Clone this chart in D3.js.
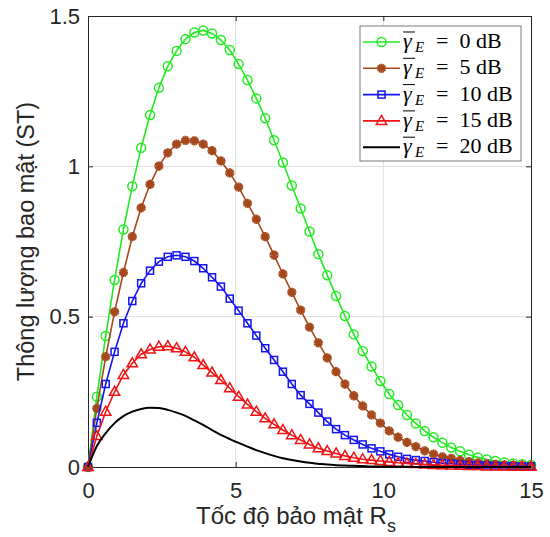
<!DOCTYPE html>
<html>
<head>
<meta charset="utf-8">
<script src="https://cdn.jsdelivr.net/npm/d3@7"></script>
<style>
  body { margin: 0; background: #fff; }
  svg { display: block; }
</style>
</head>
<body>
<div id="chart"></div>
<script>
// secrecy rate Rs (x axis), one point every 0.3
const rates = [0, 0.3, 0.6, 0.9, 1.2, 1.5, 1.8, 2.1, 2.4, 2.7, 3, 3.3, 3.6, 3.9, 4.2, 4.5, 4.8,
  5.1, 5.4, 5.7, 6, 6.3, 6.6, 6.9, 7.2, 7.5, 7.8, 8.1, 8.4, 8.7, 9, 9.3, 9.6, 9.9, 10.2, 10.5,
  10.8, 11.1, 11.4, 11.7, 12, 12.3, 12.6, 12.9, 13.2, 13.5, 13.8, 14.1, 14.4, 14.7, 15]

const st0 = [0, 0.234, 0.436, 0.622, 0.79, 0.934, 1.062, 1.171, 1.261, 1.333, 1.384, 1.423, 1.445,
  1.452, 1.442, 1.42, 1.387, 1.34, 1.287, 1.226, 1.16, 1.087, 1.013, 0.936, 0.86, 0.783, 0.708,
  0.638, 0.569, 0.502, 0.441, 0.386, 0.334, 0.286, 0.243, 0.206, 0.173, 0.145, 0.12, 0.099,
  0.081, 0.065, 0.052, 0.041, 0.032, 0.025, 0.02, 0.015, 0.012, 0.009, 0.007]
const st5 = [0, 0.195, 0.367, 0.516, 0.647, 0.766, 0.862, 0.94, 1.001, 1.045, 1.074, 1.086, 1.085,
  1.074, 1.052, 1.018, 0.978, 0.931, 0.877, 0.824, 0.766, 0.705, 0.642, 0.581, 0.522, 0.465,
  0.413, 0.363, 0.317, 0.276, 0.237, 0.203, 0.173, 0.146, 0.12, 0.099, 0.082, 0.068, 0.054,
  0.043, 0.034, 0.029, 0.022, 0.018, 0.014, 0.011, 0.009, 0.007, 0.006, 0.005, 0.004]
const st10 = [0, 0.147, 0.276, 0.383, 0.478, 0.552, 0.611, 0.653, 0.683, 0.699, 0.704, 0.699, 0.685,
  0.661, 0.631, 0.6, 0.56, 0.52, 0.478, 0.437, 0.395, 0.356, 0.317, 0.276, 0.239, 0.21, 0.181,
  0.151, 0.126, 0.106, 0.09, 0.075, 0.062, 0.052, 0.042, 0.034, 0.027, 0.023, 0.02, 0.016,
  0.013, 0.011, 0.009, 0.007, 0.006, 0.005, 0.004, 0.003, 0.003, 0.002, 0.002]
const st15 = [0, 0.103, 0.184, 0.25, 0.306, 0.345, 0.375, 0.391, 0.4, 0.402, 0.395, 0.383, 0.365,
  0.339, 0.314, 0.289, 0.262, 0.234, 0.208, 0.184, 0.162, 0.142, 0.123, 0.106, 0.09, 0.075,
  0.062, 0.053, 0.045, 0.037, 0.031, 0.026, 0.023, 0.02, 0.017, 0.014, 0.012, 0.01, 0.008,
  0.007, 0.006, 0.005, 0.004, 0.003, 0.003, 0.002, 0.002, 0.002, 0.001, 0.001, 0.001]
const st20 = [0, 0.07, 0.113, 0.146, 0.169, 0.184, 0.193, 0.197, 0.196, 0.19, 0.181, 0.17, 0.155,
  0.14, 0.123, 0.107, 0.093, 0.08, 0.068, 0.056, 0.046, 0.037, 0.029, 0.023, 0.018, 0.014,
  0.011, 0.008, 0.006, 0.005, 0.004, 0.003, 0.002, 0.002, 0.001, 0.001, 0.001, 0, 0, 0,
  0, 0, 0, 0, 0, 0, 0, 0, 0, 0, 0]

const legendLabels = ['0', '5', '10', '15', '20']
const xTicks = [0, 5, 10, 15]
const yTicks = [0, 0.5, 1, 1.5]

const series = [
  { values: st0, color: '#22ea22', marker: 'circle' },
  { values: st5, color: '#a5481b', marker: 'star' },
  { values: st10, color: '#1414f0', marker: 'square' },
  { values: st15, color: '#f01414', marker: 'triangle' },
  { values: st20, color: '#000000', marker: 'none' },
]

const W = 550, H = 537
const m = { left: 88, right: 531, top: 16, bottom: 467 }

const x = d3.scaleLinear().domain([0, 15]).range([m.left, m.right])
const y = d3.scaleLinear().domain([0, 1.5]).range([m.bottom, m.top])

const svg = d3.select('#chart').append('svg')
  .attr('width', W)
  .attr('height', H)

// grid
svg.append('g')
  .selectAll('line')
  .data(xTicks.slice(1, -1))
  .enter().append('line')
  .attr('x1', d => x(d)).attr('x2', d => x(d))
  .attr('y1', m.top).attr('y2', m.bottom)
  .attr('stroke', '#dedede').attr('stroke-width', 1)
svg.append('g')
  .selectAll('line')
  .data(yTicks.slice(1, -1))
  .enter().append('line')
  .attr('y1', d => y(d)).attr('y2', d => y(d))
  .attr('x1', m.left).attr('x2', m.right)
  .attr('stroke', '#dedede').attr('stroke-width', 1)

// axes (ticks inside, box on)
const fontSans = 'Liberation Sans, Arial, sans-serif'
const xAxis = svg.append('g')
  .attr('transform', `translate(0,${m.bottom})`)
  .call(d3.axisBottom(x).tickValues(xTicks).tickSizeInner(-5).tickSizeOuter(0).tickPadding(15))
const yAxis = svg.append('g')
  .attr('transform', `translate(${m.left},0)`)
  .call(d3.axisLeft(y).tickValues(yTicks).tickFormat(d3.format('')).tickSizeInner(-5).tickSizeOuter(0).tickPadding(8))
svg.append('g')
  .attr('transform', `translate(0,${m.top})`)
  .call(d3.axisTop(x).tickValues(xTicks).tickSizeInner(-5).tickSizeOuter(0).tickFormat(''))
svg.append('g')
  .attr('transform', `translate(${m.right},0)`)
  .call(d3.axisRight(y).tickValues(yTicks).tickSizeInner(-5).tickSizeOuter(0).tickFormat(''))
svg.selectAll('.domain').attr('stroke', '#262626')
svg.selectAll('.tick line').attr('stroke', '#262626')
xAxis.selectAll('text').attr('font-family', fontSans).attr('font-size', 22).attr('fill', '#262626')
yAxis.selectAll('text').attr('font-family', fontSans).attr('font-size', 22).attr('fill', '#262626')

// axis labels
svg.append('text')
  .attr('x', 296).attr('y', 524)
  .attr('text-anchor', 'middle')
  .attr('font-family', fontSans).attr('font-size', 24).attr('fill', '#262626')
  .text('Tốc độ bảo mật R')
  .append('tspan')
  .attr('dy', 8).attr('font-size', 18)
  .text('s')
svg.append('text')
  .attr('transform', `translate(34,${(m.top + m.bottom) / 2}) rotate(-90)`)
  .attr('text-anchor', 'middle')
  .attr('font-family', fontSans).attr('font-size', 23.5).attr('fill', '#262626')
  .text('Thông lượng bao mật (ST)')

// markers
function drawMarker(g, type, color) {
  if (type === 'circle') {
    g.append('circle').attr('r', 4.5).attr('fill', 'none').attr('stroke', color).attr('stroke-width', 1.5)
  } else if (type === 'square') {
    g.append('rect').attr('x', -3.5).attr('y', -3.5).attr('width', 7).attr('height', 7)
      .attr('fill', 'none').attr('stroke', color).attr('stroke-width', 1.5)
  } else if (type === 'triangle') {
    g.append('path').attr('d', 'M0,-5.5L5.2,3.5L-5.2,3.5Z')
      .attr('fill', 'none').attr('stroke', color).attr('stroke-width', 1.5)
  } else if (type === 'star') {
    g.append('path').attr('d', d3.symbol(d3.symbolAsterisk, 60)())
      .attr('fill', 'none').attr('stroke', color).attr('stroke-width', 2.2)
    g.append('path').attr('d', d3.symbol(d3.symbolAsterisk, 60)())
      .attr('transform', 'rotate(30)')
      .attr('fill', 'none').attr('stroke', color).attr('stroke-width', 1.6)
  }
}

const line = d3.line()
  .x((d, i) => x(rates[i]))
  .y(d => y(d))

series.forEach(s => {
  svg.append('path')
    .datum(s.values)
    .attr('d', s.marker === 'none' ? line.curve(d3.curveMonotoneX)(s.values) : line.curve(d3.curveLinear)(s.values))
    .attr('fill', 'none')
    .attr('stroke', s.color)
    .attr('stroke-width', s.marker === 'none' ? 2 : 1.6)
  if (s.marker !== 'none') {
    svg.append('g')
      .selectAll('g')
      .data(s.values)
      .enter().append('g')
      .attr('transform', (d, i) => `translate(${x(rates[i])},${y(d)})`)
      .each(function () { drawMarker(d3.select(this), s.marker, s.color) })
  }
})

// legend
const lg = svg.append('g')
lg.append('rect')
  .attr('x', 360).attr('y', 26).attr('width', 161).attr('height', 135)
  .attr('fill', '#fff').attr('stroke', '#7a7a7a').attr('stroke-width', 1)
const fontSerif = 'Liberation Serif, Times New Roman, serif'
series.forEach((s, i) => {
  const cy = 42 + i * 26.3
  const row = lg.append('g')
  row.append('line')
    .attr('x1', 363).attr('x2', 400).attr('y1', cy).attr('y2', cy)
    .attr('stroke', s.color).attr('stroke-width', s.marker === 'none' ? 2 : 1.6)
  if (s.marker !== 'none') {
    drawMarker(row.append('g').attr('transform', `translate(381.5,${cy})`), s.marker, s.color)
  }
  row.append('text')
    .attr('x', 403).attr('y', cy + 6)
    .attr('font-family', fontSerif).attr('font-style', 'italic').attr('font-size', 22)
    .attr('fill', '#000')
    .text('γ')
  row.append('line')
    .attr('x1', 403).attr('x2', 415).attr('y1', cy - 10).attr('y2', cy - 10)
    .attr('stroke', '#000').attr('stroke-width', 1)
  row.append('text')
    .attr('x', 415).attr('y', cy + 10)
    .attr('font-family', fontSerif).attr('font-style', 'italic').attr('font-size', 15)
    .attr('fill', '#000')
    .text('E')
  row.append('text')
    .attr('x', 436).attr('y', cy + 6)
    .attr('font-family', fontSerif).attr('font-size', 22)
    .attr('fill', '#000')
    .attr('xml:space', 'preserve')
    .text('=  ' + legendLabels[i] + ' dB')
})
</script>
</body>
</html>
